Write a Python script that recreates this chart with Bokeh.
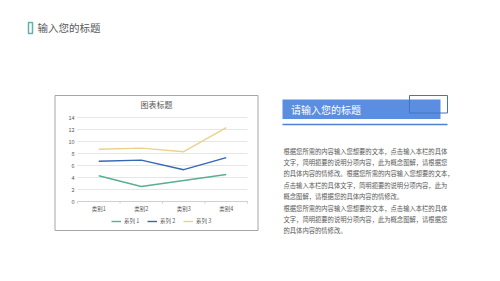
import numpy as np
from bokeh.plotting import figure
from bokeh.models import Range1d, Legend, LegendItem
from bokeh.core.properties import value
from bokeh.embed import file_html
from bokeh.resources import INLINE

# ---------------- data ----------------
categories = ["类别1", "类别2", "类别3", "类别4"]
series_names = ["系列 1", "系列 2", "系列 3"]
series1 = [4.3, 2.5, 3.5, 4.5]
series2 = [2.4, 4.4, 1.8, 2.8]
series3 = [2.0, 2.0, 3.0, 5.0]
y_ticks = [0, 2, 4, 6, 8, 10, 12, 14]
y_tick_labels = ["0", "2", "4", "6", "8", "10", "12", "14"]
series_colors = ["#5aae92", "#3467b4", "#ecd18d"]

page_title = "输入您的标题"
chart_title = "图表标题"
box_title = "请输入您的标题"
body_lines = [
    "根据您所需的内容输入您想要的文本，点击输入本栏的具体",
    "文字，简明扼要的说明分项内容，此为概念图解，请根据您",
    "的具体内容的情修改。根据您所需的内容输入您想要的文本，",
    "点击输入本栏的具体文字，简明扼要的说明分项内容，此为",
    "概念图解，请根据您的具体内容的情修改。",
    "根据您所需的内容输入您想要的文本，点击输入本栏的具体",
    "文字，简明扼要的说明分项内容，此为概念图解，请根据您",
    "的具体内容的情修改。",
]

FONT = "Noto Sans CJK SC"
GRAY = "#595959"
W, H = 500, 281

# plot-area layout (page pixels)
PL, PR, PT, PB = 77.0, 247.0, 117.0, 201.0
Y_MAX = 14.0
band = (PR - PL) / len(categories)
ypx = (PB - PT) / Y_MAX

# stacked line chart (cumulative values)
stacked = np.cumsum(np.array([series1, series2, series3]), axis=0)
xi = list(range(len(categories)))

p = figure(width=W, height=H, x_range=(0, W), y_range=(H, 0),
           x_axis_location=None, y_axis_location=None, min_border=0,
           output_backend="svg", toolbar_location=None)
p.outline_line_color = None
p.background_fill_color = "white"
p.border_fill_color = "white"
p.xgrid.visible = False
p.ygrid.visible = False

# chart scales mapped onto the page
p.extra_x_ranges = {"cx": Range1d(-PL / band - 0.5, (W - PL) / band - 0.5)}
p.extra_y_ranges = {"cy": Range1d((PB - H) / ypx, PB / ypx)}

# ---- chart box ----
p.quad(left=[54.5], right=[257.5], top=[95], bottom=[230], fill_color=None,
       line_color="#a6a6a6", line_width=1)
p.text(x=[156], y=[103.5], text=[chart_title], text_font=value(FONT),
       text_font_size="8px", text_color=GRAY, text_align="center", text_baseline="middle")

# gridlines
p.segment(x0=PL, x1=PR, y0=y_ticks[1:], y1=y_ticks[1:], y_range_name="cy",
          line_color="#e6e6e6", line_width=1)
# x axis line and boundary ticks
p.segment(x0=PL, x1=PR, y0=0, y1=0, y_range_name="cy", line_color="#d0d0d0", line_width=1)
bounds = [i - 0.5 for i in range(len(categories) + 1)]
p.segment(x0=bounds, x1=bounds, y0=0, y1=-2 / ypx, x_range_name="cx", y_range_name="cy",
          line_color="#d0d0d0", line_width=1)

# y tick labels
p.text(x=PL - 3, y=y_ticks, text=y_tick_labels, y_range_name="cy", text_font=value(FONT),
       text_font_size="5.5px", text_color=GRAY, text_align="right", text_baseline="middle")
# x tick labels
p.text(x=xi, y=[0] * len(xi), text=categories, x_range_name="cx", y_range_name="cy",
       y_offset=7, text_font=value(FONT), text_font_size="5.5px", text_color=GRAY,
       text_align="center", text_baseline="middle")

renderers = []
for i in range(3):
    r = p.line(x=xi, y=stacked[i], x_range_name="cx", y_range_name="cy",
               line_color=series_colors[i], line_width=1.4)
    renderers.append(r)

legend = Legend(items=[LegendItem(label=series_names[i], renderers=[renderers[i]]) for i in range(3)],
                orientation="horizontal", location=(111, 56),
                padding=0, margin=0, spacing=3, glyph_width=10, glyph_height=8,
                label_height=8, label_standoff=3,
                label_text_font_size="5.5px", label_text_color=GRAY, label_text_font=FONT,
                border_line_color=None, background_fill_alpha=0)
p.add_layout(legend)

# ---- page title ----
p.quad(left=[28], right=[32], top=[22], bottom=[33], fill_color=None,
       line_color="#5fb3a8", line_width=1.5)
p.text(x=[37], y=[27], text=[page_title], text_font=value(FONT), text_font_size="10.5px",
       text_color=GRAY, text_align="left", text_baseline="middle")

# ---- right panel ----
p.quad(left=[282], right=[440], top=[99], bottom=[118.5], fill_color="#5b8ee0", line_color=None)
p.quad(left=[409], right=[447], top=[95], bottom=[112.5], fill_color=None,
       line_color="#4472c4", line_width=1)
p.quad(left=[282], right=[447], top=[123.2], bottom=[124.8], fill_color="#4f80d4", line_color=None)
p.text(x=[290.5], y=[109], text=[box_title], text_font=value(FONT), text_font_size="10px",
       text_color="white", text_align="left", text_baseline="middle")

p.text(x=[283] * len(body_lines), y=[150.5 + i * 11.4 for i in range(len(body_lines))],
       text=body_lines, text_font=value(FONT), text_font_size="6.3px", text_color=GRAY,
       text_align="left", text_baseline="middle")

open("out.html", "w").write(file_html(p, INLINE))
